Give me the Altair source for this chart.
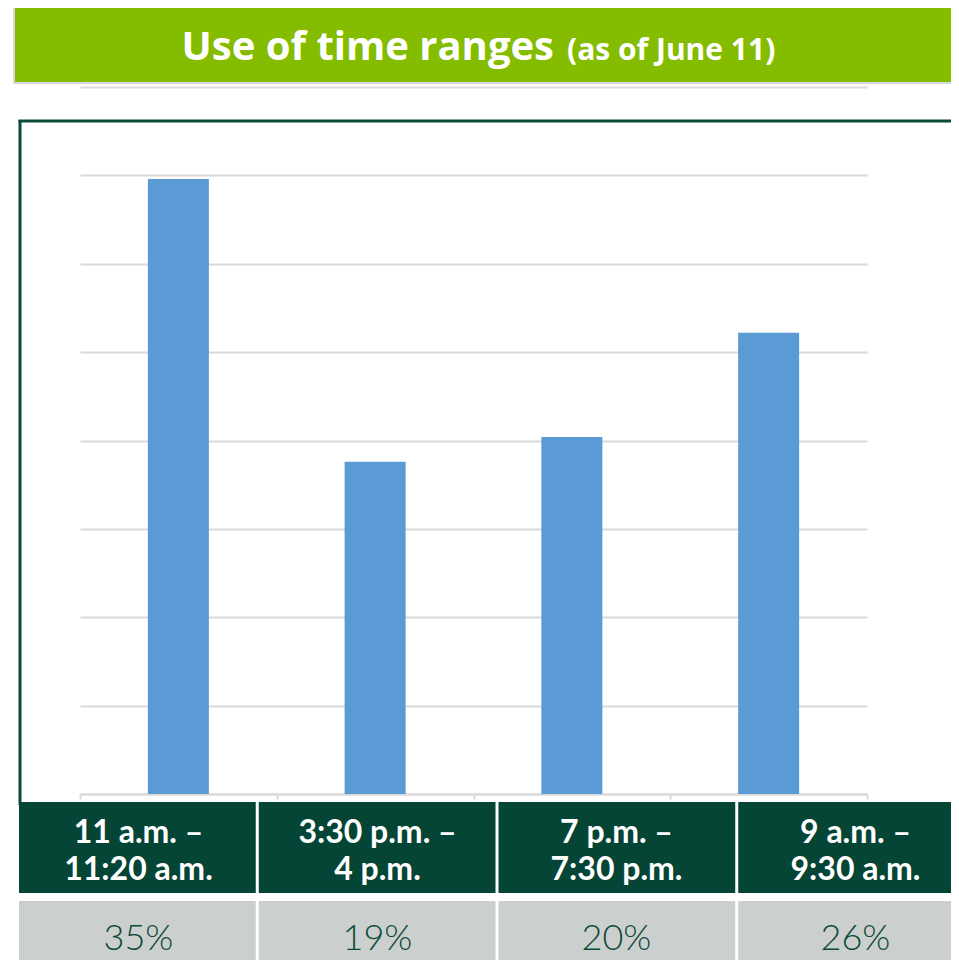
import altair as alt
import pandas as pd

# ---- data ----
slots = [
    "11 a.m. –\n11:20 a.m.",
    "3:30 p.m. –\n4 p.m.",
    "7 p.m. –\n7:30 p.m.",
    "9 a.m. –\n9:30 a.m.",
]
bar_values = [34.8, 18.8, 20.2, 26.1]
share_labels = ["35%", "19%", "20%", "26%"]
grid_ticks = [0, 5, 10, 15, 20, 25, 30, 35, 40]
title_main = "Use of time ranges"
title_sub = "(as of June 11)"

df = pd.DataFrame({"slot": slots, "value": bar_values, "label": share_labels})
one = pd.DataFrame({"k": [0]})

GREEN = "#84BD00"
DARK = "#054535"
GREY_BOX = "#CBCFCD"
GRID = "#D9D9D9"
BLUE = "#5B9BD5"
BORDER = "#0B4A3A"

box_scale = alt.Scale(domain=slots, range=[-61, 895], paddingInner=0.0125, paddingOuter=0)

border_top = alt.Chart(one).mark_rule(color=BORDER, strokeWidth=3).encode(
    x=alt.value(-61.5), x2=alt.value(1000), y=alt.value(34)
)
border_left = alt.Chart(one).mark_rule(color=BORDER, strokeWidth=3).encode(
    x=alt.value(-60), y=alt.value(33), y2=alt.value(718)
)

title_bar = alt.Chart(one).mark_rect(color=GREEN, stroke=GRID, strokeWidth=2).encode(
    x=alt.value(-66), x2=alt.value(900), y=alt.value(-81), y2=alt.value(-4)
)

title_big = alt.Chart(one).mark_text(
    text=title_main, font="Open Sans", fontWeight="bold", fontSize=40,
    color="white", align="right", baseline="alphabetic"
).encode(x=alt.value(474), y=alt.value(-27))

title_small = alt.Chart(one).mark_text(
    text=title_sub, font="Open Sans", fontWeight="bold", fontSize=30,
    color="white", align="left", baseline="alphabetic"
).encode(x=alt.value(487), y=alt.value(-27))

bars = alt.Chart(df).mark_bar(color=BLUE, width=alt.RelativeBandSize(0.31)).encode(
    x=alt.X(
        "slot:N", sort=slots,
        scale=alt.Scale(paddingInner=0, paddingOuter=0),
        axis=alt.Axis(title=None, labels=False, domainColor=GRID, domainWidth=2,
                      tickColor=GRID, tickWidth=2, tickSize=5, tickBand="extent", grid=False),
    ),
    y=alt.Y(
        "value:Q", scale=alt.Scale(domain=[0, 40]),
        axis=alt.Axis(title=None, labels=False, ticks=False, domain=False,
                      values=grid_ticks, grid=True, gridColor=GRID, gridWidth=2),
    ),
)

boxes_green = alt.Chart(df).mark_rect(color=DARK).encode(
    x=alt.X("slot:N", scale=box_scale, axis=None),
    y=alt.value(715), y2=alt.value(806),
)

boxes_grey = alt.Chart(df).mark_rect(color=GREY_BOX).encode(
    x=alt.X("slot:N", scale=box_scale, axis=None),
    y=alt.value(814), y2=alt.value(890),
)

box_text = alt.Chart(df).mark_text(
    lineBreak="\n", font="Lato", fontWeight="bold", fontSize=32, lineHeight=37,
    color="white", align="center", baseline="alphabetic"
).encode(
    x=alt.X("slot:N", scale=box_scale, axis=None),
    y=alt.value(756),
    text=alt.Text("slot:N"),
)

pct_text = alt.Chart(df).mark_text(
    font="Lato", fontWeight=300, fontSize=36,
    color="#0B4A3A", align="center", baseline="alphabetic"
).encode(
    x=alt.X("slot:N", scale=box_scale, axis=None),
    y=alt.value(863),
    text=alt.Text("label:N"),
)

chart = alt.layer(
    border_top, border_left, title_bar, title_big, title_small, bars,
    boxes_green, boxes_grey, box_text, pct_text
).resolve_scale(x="independent").properties(
    width=787, height=707,
    padding={"left": 72, "top": 79, "right": 84, "bottom": 166},
    autosize=alt.AutoSizeParams(type="none"),
).configure_view(stroke=None)

chart.save("out.html", embed_options={"renderer": "svg", "actions": False})
